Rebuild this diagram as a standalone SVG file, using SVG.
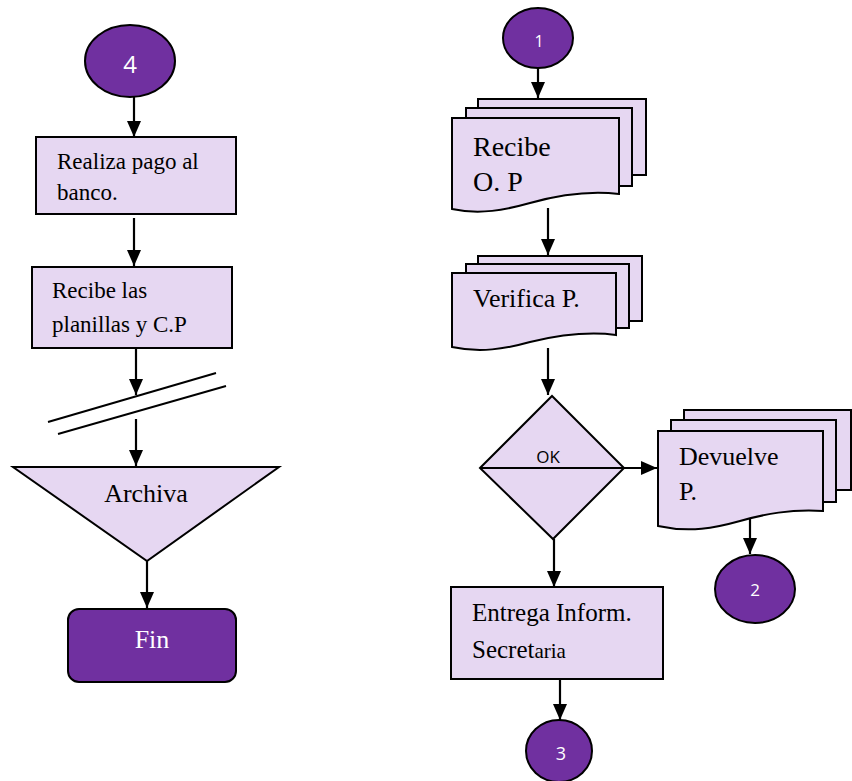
<svg xmlns="http://www.w3.org/2000/svg" width="852" height="781" viewBox="0 0 852 781">
  <defs>
    <marker id="arrow" viewBox="0 0 16 14" refX="16" refY="7" markerWidth="16" markerHeight="14" markerUnits="userSpaceOnUse" orient="auto">
      <path d="M0,0 L16,7 L0,14 Z" fill="#000"/>
    </marker>
    <style>
      .box { fill: #e6d7f2; stroke: #000; stroke-width: 2; }
      .term { fill: #7030a0; stroke: #000; stroke-width: 2; }
      .conn line, .conn path { stroke: #000; stroke-width: 2.2; fill: none; }
      .arr { marker-end: url(#arrow); }
      .serif { font-family: "Liberation Serif", "Times New Roman", serif; fill: #000; }
      .num { font-family: "Open Sans", "Liberation Sans", sans-serif; fill: #fff; text-anchor: middle; }
      .ok { font-family: "Open Sans", "Liberation Sans", sans-serif; fill: #000; text-anchor: middle; font-size: 17px; }
    </style>
  </defs>
  <rect width="852" height="781" fill="#fff"/>

  <!-- left flow -->
  <g id="c4">
    <ellipse class="term" cx="130" cy="61" rx="45" ry="36"/>
    <text class="num" x="130" y="73" font-size="24">4</text>
  </g>
  <g id="pago">
    <rect class="box" x="36" y="137" width="200" height="77"/>
    <text class="serif" x="57" y="169" font-size="23">Realiza pago al</text>
    <text class="serif" x="57" y="200" font-size="23">banco.</text>
  </g>
  <g id="planillas">
    <rect class="box" x="32" y="267" width="200" height="81"/>
    <text class="serif" x="52" y="298" font-size="23">Recibe las</text>
    <text class="serif" x="52" y="332" font-size="23">planillas y C.P</text>
  </g>
  <g id="corte">
    <line x1="48" y1="422" x2="216" y2="373" stroke="#000" stroke-width="2"/>
    <line x1="58" y1="434" x2="226" y2="386" stroke="#000" stroke-width="2"/>
  </g>
  <g id="archiva">
    <polygon class="box" points="13,467 279,467 147,561"/>
    <text class="serif" x="146" y="502" font-size="26" text-anchor="middle">Archiva</text>
  </g>
  <g id="fin">
    <rect class="term" x="68" y="609" width="168" height="73" rx="11"/>
    <text class="serif" x="152" y="648" font-size="26" text-anchor="middle" style="fill:#fff">Fin</text>
  </g>

  <!-- right flow -->
  <g id="c1">
    <ellipse class="term" cx="538" cy="38" rx="35" ry="30"/>
    <text class="num" x="539" y="47" font-size="16">1</text>
  </g>
  <g id="recibe">
    <rect class="box" x="478" y="99" width="168" height="76"/>
    <rect class="box" x="466" y="108" width="166" height="78"/>
    <path class="box" d="M452,118 H619 V194 C585,190 555,196 530,203 C505,210 480,215 452,209 Z"/>
    <text class="serif" x="473" y="156" font-size="28">Recibe</text>
    <text class="serif" x="473" y="191" font-size="28">O. P</text>
  </g>
  <g id="verifica">
    <rect class="box" x="478" y="256" width="164" height="65"/>
    <rect class="box" x="466" y="264" width="163" height="64"/>
    <path class="box" d="M452,273 H616 V335 C585,331 555,336 530,342 C505,349 480,353 452,347 Z"/>
    <text class="serif" x="473" y="307" font-size="26">Verifica P.</text>
  </g>
  <g id="ok">
    <polygon class="box" points="480,468 552,396 624,468 553,539"/>
    <line x1="480" y1="468" x2="624" y2="468" stroke="#000" stroke-width="2"/>
    <text class="ok" x="548" y="463">OK</text>
  </g>
  <g id="devuelve">
    <rect class="box" x="684" y="410" width="167" height="80"/>
    <rect class="box" x="671" y="420" width="165" height="82"/>
    <path class="box" d="M658,431 H823 V511 C790,509 765,514 740,521 C715,528 690,533 658,526 Z"/>
    <text class="serif" x="679" y="465" font-size="26">Devuelve</text>
    <text class="serif" x="679" y="500" font-size="26">P.</text>
  </g>
  <g id="c2">
    <ellipse class="term" cx="755" cy="589" rx="40" ry="34"/>
    <text class="num" x="755" y="596" font-size="17">2</text>
  </g>
  <g id="entrega">
    <rect class="box" x="451" y="587" width="212" height="92"/>
    <text class="serif" x="472" y="621" font-size="25">Entrega Inform.</text>
    <text class="serif" x="472" y="658" font-size="25">Secret<tspan font-size="21">aria</tspan></text>
  </g>
  <g id="c3">
    <ellipse class="term" cx="559" cy="751" rx="33" ry="31"/>
    <text class="num" x="561" y="760" font-size="18">3</text>
  </g>

  <!-- connectors -->
  <g id="connectors" class="conn">
    <line class="arr" x1="134" y1="97" x2="134" y2="137"/>
    <line class="arr" x1="134" y1="218" x2="134" y2="266"/>
    <line class="arr" x1="136" y1="348" x2="136" y2="395"/>
    <line class="arr" x1="136" y1="419" x2="136" y2="466"/>
    <line class="arr" x1="147" y1="561" x2="147" y2="608"/>
    <line class="arr" x1="538" y1="68" x2="538" y2="98"/>
    <line class="arr" x1="548" y1="208" x2="548" y2="255"/>
    <line class="arr" x1="548" y1="348" x2="548" y2="395"/>
    <line class="arr" x1="610" y1="468" x2="657" y2="468"/>
    <line class="arr" x1="750" y1="519" x2="750" y2="554"/>
    <line class="arr" x1="554" y1="539" x2="554" y2="587"/>
    <line class="arr" x1="560" y1="679" x2="560" y2="720"/>
  </g>
</svg>
